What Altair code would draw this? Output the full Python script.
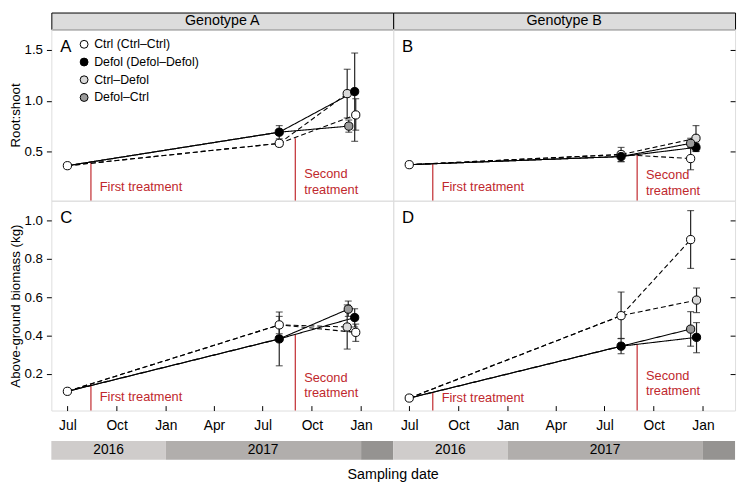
import altair as alt
import pandas as pd

# ---------------- data ----------------
genotypes = ["Genotype A", "Genotype B"]
panel_letters = ["A", "B", "C", "D"]

groups = ["Ctrl (Ctrl–Ctrl)", "Defol (Defol–Defol)", "Ctrl–Defol", "Defol–Ctrl"]
group_fill = ["#ffffff", "#000000", "#dadada", "#9b9b9b"]

# point order: initial, 2nd Ctrl, 2nd Defol, 3rd Ctrl–Ctrl, 3rd Ctrl–Defol, 3rd Defol–Defol, 3rd Defol–Ctrl
point_group = [groups[0], groups[0], groups[1], groups[0], groups[2], groups[1], groups[3]]

lineage_names = ["Ctrl–Ctrl", "Ctrl–Defol", "Defol–Defol", "Defol–Ctrl"]
lineage_idx = [[0, 1, 3], [0, 1, 4], [0, 2, 5], [0, 2, 6]]
lineage_treat = ["Ctrl", "Ctrl", "Defol", "Defol"]

# Panel A: root:shoot, genotype A
dates_A = ["2016-07-01", "2017-08-01", "2017-08-01", "2017-12-22", "2017-12-06", "2017-12-20", "2017-12-09"]
vals_A = [0.36, 0.58, 0.69, 0.86, 1.07, 1.09, 0.75]
lo_A = [None, 0.55, 0.625, 0.71, 0.83, 0.60, 0.69]
hi_A = [None, 0.61, 0.755, 1.02, 1.31, 1.47, 0.81]

# Panel B: root:shoot, genotype B
dates_B = ["2016-07-01", "2017-08-01", "2017-08-01", "2017-12-09", "2017-12-19", "2017-12-19", "2017-12-09"]
vals_B = [0.37, 0.47, 0.45, 0.43, 0.63, 0.54, 0.58]
lo_B = [None, 0.40, 0.40, 0.32, 0.50, 0.50, 0.53]
hi_B = [None, 0.54, 0.50, 0.54, 0.755, 0.58, 0.63]

# Panel C: above-ground biomass, genotype A
dates_C = ["2016-07-01", "2017-08-01", "2017-08-01", "2017-12-22", "2017-12-06", "2017-12-20", "2017-12-08"]
vals_C = [0.11, 0.456, 0.383, 0.417, 0.445, 0.494, 0.538]
lo_C = [None, 0.41, 0.243, 0.37, 0.33, 0.445, 0.50]
hi_C = [None, 0.50, 0.523, 0.46, 0.56, 0.54, 0.58]

# Panel D: above-ground biomass, genotype B
dates_D = ["2016-07-01", "2017-08-01", "2017-08-01", "2017-12-09", "2017-12-20", "2017-12-20", "2017-12-09"]
vals_D = [0.075, 0.504, 0.345, 0.90, 0.585, 0.391, 0.434]
lo_D = [None, 0.385, 0.306, 0.75, 0.52, 0.311, 0.345]
hi_D = [None, 0.627, 0.385, 1.051, 0.648, 0.468, 0.525]

treat_dates = ["2016-08-14", "2017-08-31"]
treat_labels = ["First treatment", "Second\ntreatment"]
treat_top_A = [0.40, 0.63]
treat_top_B = [0.38, 0.47]
treat_top_C = [0.15, 0.405]
treat_top_D = [0.105, 0.355]

x_domain = ["2016-06-01", "2018-03-02"]
x_ticks = ["2016-07-01", "2016-10-01", "2017-01-01", "2017-04-01", "2017-07-01", "2017-10-01", "2018-01-01"]

year_names = ["2016", "2017", "2018"]
year_text = ["2016", "2017", ""]
year_start = ["2016-06-01", "2017-01-01", "2018-01-01"]
year_end = ["2017-01-01", "2018-01-01", "2018-03-02"]
year_mid = ["2016-09-16", "2017-07-02", "2018-01-31"]
year_colors = ["#cfcccb", "#b1aeac", "#959391"]

top_domain = [0.015, 1.704]
top_ticks = [0.5, 1.0, 1.5]
bot_domain = [0.01, 1.1026]
bot_ticks = [0.2, 0.4, 0.6, 0.8, 1.0]

# ---------------- style ----------------
RED = "#c0282d"
FONT = "Liberation Sans"
W = 347
H_HEAD = 17
H_TOP = 174
H_BOT = 213


def dt(s):
    y, m, d = map(int, s.split("-"))
    return alt.DateTime(year=y, month=m, date=d, utc=True)


def xenc(field, bottom):
    if bottom:
        axis = alt.Axis(values=[dt(s) for s in x_ticks], labelExpr="utcFormat(datum.value, '%b')",
                        tickSize=5, offset=-5, domain=False, grid=False, labelPadding=8,
                        title=None, labelFontSize=14, tickColor="black", labelColor="black")
    else:
        axis = None
    return alt.X(f"{field}:T", scale=alt.Scale(type="utc", domain=[dt(s) for s in x_domain], nice=False),
                 axis=axis)


def yenc(field, dom, ticks, title, side):
    if side == "left":
        axis = alt.Axis(values=ticks, format=".1f", title=title, tickSize=5, labelPadding=4,
                        minExtent=28, maxExtent=28, titlePadding=1, domain=False, grid=False,
                        orient="left", labelFontSize=13.5, titleFontSize=13.5, titleFontWeight="normal",
                        tickColor="black", labelColor="black", titleColor="black")
    else:
        axis = alt.Axis(values=ticks, labels=False, title=None, tickSize=5, offset=-5,
                        domain=False, grid=False, orient="right", tickColor="black")
    return alt.Y(f"{field}:Q", scale=alt.Scale(domain=dom, nice=False, zero=False), axis=axis)


def header(label):
    df = pd.DataFrame({"label": [label]})
    return alt.Chart(df).mark_text(fontSize=14.5, baseline="middle", color="black").encode(
        text="label:N", x=alt.value(W / 2), y=alt.value(H_HEAD / 2)
    ).properties(width=W, height=H_HEAD, view=alt.ViewBackground(fill="#dcdcdc", stroke="black"))


def panel(letter, dates, vals, lo, hi, tops, H, dom, ticks, title, side, bottom,
          first_dy, second_dy, second_lh, sampling=False):
    pts = pd.DataFrame({"date": dates, "group": point_group, "value": vals, "lo": lo, "hi": hi})
    err = pts.dropna(subset=["lo", "hi"])
    rows = []
    for name, idx, tr in zip(lineage_names, lineage_idx, lineage_treat):
        for step, i in enumerate(idx):
            rows.append({"date": dates[i], "value": vals[i], "lineage": name, "treat": tr, "step": step})
    lines = pd.DataFrame(rows)
    treat = pd.DataFrame({"date": treat_dates, "top": tops, "label": treat_labels})

    X = lambda f: xenc(f, bottom)
    Y = lambda f: yenc(f, dom, ticks, title, side)

    rules = alt.Chart(treat).mark_rule(color=RED, strokeWidth=1.2).encode(
        x=X("date"), y=Y("top"), y2=alt.value(H))
    t1 = alt.Chart(treat.iloc[[0]]).mark_text(align="left", dx=9, baseline="middle", fontSize=13,
                                              color=RED).encode(
        x=X("date"), y=alt.value(H - first_dy), text="label:N")
    t2 = alt.Chart(treat.iloc[[1]]).mark_text(align="left", dx=9, baseline="middle", fontSize=13,
                                              color=RED, lineBreak="\n", lineHeight=second_lh).encode(
        x=X("date"), y=alt.value(H - second_dy), text="label:N")
    ln = alt.Chart(lines).mark_line(color="black", strokeWidth=1.1).encode(
        x=X("date"), y=Y("value"), detail="lineage:N", order=alt.Order("step:Q"),
        strokeDash=alt.StrokeDash("treat:N", scale=alt.Scale(domain=["Ctrl", "Defol"],
                                                             range=[[5, 3], [1, 0]]), legend=None))
    eb = alt.Chart(err).mark_errorbar(ticks=True, size=7, thickness=1.2, color="#222222").encode(
        x=X("date"), y=Y("lo"), y2=alt.Y2("hi:Q"))
    pt = alt.Chart(pts).mark_point(filled=True, size=70, stroke="black", strokeWidth=1, opacity=1).encode(
        x=X("date"), y=Y("value"),
        fill=alt.Fill("group:N", scale=alt.Scale(domain=groups, range=group_fill),
                      legend=alt.Legend(title=None, orient="none", legendX=27, legendY=26,
                                        symbolType="circle", symbolSize=64, symbolStrokeColor="black",
                                        symbolStrokeWidth=1, labelFontSize=12.5, rowPadding=5,
                                        labelOffset=4, padding=0, labelColor="black")))
    let = alt.Chart(pd.DataFrame({"t": [letter]})).mark_text(
        align="left", baseline="middle", fontSize=17, color="black").encode(
        text="t:N", x=alt.value(9), y=alt.value(18))
    layers = [rules, t1, t2, ln, eb, pt, let]
    if bottom:
        yrs = pd.DataFrame({"name": year_names, "text": year_text, "start": year_start,
                            "end": year_end, "mid": year_mid})
        bar = alt.Chart(yrs).mark_rect().encode(
            x=X("start"), x2=alt.X2("end:T"), y=alt.value(H + 31), y2=alt.value(H + 50),
            color=alt.Color("name:N", scale=alt.Scale(domain=year_names, range=year_colors), legend=None))
        ytxt = alt.Chart(yrs).mark_text(fontSize=14, baseline="middle", color="black").encode(
            x=X("mid"), y=alt.value(H + 40.5), text="text:N")
        layers += [bar, ytxt]
        if sampling:
            st = alt.Chart(pd.DataFrame({"t": ["Sampling date"]})).mark_text(
                fontSize=14.5, baseline="middle", color="black").encode(
                text="t:N", x=alt.value(W), y=alt.value(H + 66))
            layers.append(st)
    return alt.layer(*layers).properties(width=W, height=H)


pA = panel("A", dates_A, vals_A, lo_A, hi_A, treat_top_A, H_TOP, top_domain, top_ticks,
           "Root:shoot", "left", False, 14, 27, 16)
pB = panel("B", dates_B, vals_B, lo_B, hi_B, treat_top_B, H_TOP, top_domain, top_ticks,
           "Root:shoot", "right", False, 14, 26, 16)
pC = panel("C", dates_C, vals_C, lo_C, hi_C, treat_top_C, H_BOT, bot_domain, bot_ticks,
           "Above-ground biomass (kg)", "left", True, 14, 33, 15, sampling=True)
pD = panel("D", dates_D, vals_D, lo_D, hi_D, treat_top_D, H_BOT, bot_domain, bot_ticks,
           "Above-ground biomass (kg)", "right", True, 13, 35, 15)

chart = alt.concat(
    header(genotypes[0]), header(genotypes[1]), pA, pB, pC, pD,
    columns=2, spacing=0, bounds="flush"
).resolve_scale(
    x="independent", y="independent"
).properties(
    padding={"left": 0, "top": 0, "right": 2, "bottom": 0}
).configure_view(
    stroke="black", strokeWidth=1
).configure(
    font=FONT
)

chart.save("out.html", embed_options={"renderer": "svg", "actions": False})
